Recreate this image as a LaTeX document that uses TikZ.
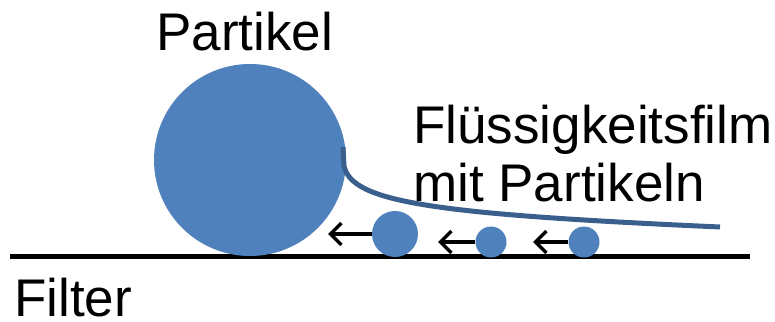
\documentclass[tikz,border=0pt]{standalone}
\usepackage{fontspec}
\setmainfont{Liberation Sans}
\usetikzlibrary{arrows.meta}
\definecolor{partblue}{HTML}{4F81BD}
\definecolor{filmblue}{HTML}{3A5F8C}
\begin{document}
\begin{tikzpicture}[x=1pt,y=-1pt,
  particle/.style={circle,fill=partblue,inner sep=0pt,draw=none},
  lbl/.style={anchor=base west,inner sep=0pt,font=\fontsize{53}{60}\selectfont},
  move/.style={line width=3.5pt,-{Straight Barb[length=11pt,width=22pt,line width=3.5pt]}}]
\useasboundingbox (0,0) rectangle (775,321);
% filter surface
\coordinate (fl) at (10,256);
\coordinate (fr) at (750,256);
\draw[line width=5pt] (fl) -- (fr);
% particles
\node[particle,minimum size=192pt] (big) at (250,160) {};
\node[particle,minimum size=46pt] (p1) at (395,234) {};
\node[particle,minimum size=31pt] (p2) at (491,242) {};
\node[particle,minimum size=31pt] (p3) at (584,242) {};
% liquid film surface
\coordinate (fs) at (343,147);
\coordinate (fe) at (720,227);
\draw[filmblue,line width=5pt] (fs) -- (344,166) .. controls (352,202) and (430,214) .. (fe);
% particle motion
\coordinate (a1) at (328,234);
\coordinate (a2) at (438,242);
\coordinate (a3) at (533,242);
\draw[move] (p1.west) -- (a1);
\draw[move] (p2.west) -- (a2);
\draw[move] (p3.west) -- (a3);
% labels
\node[lbl] (tpart) at (156,50) {Partikel};
\node[lbl] (tfilm1) at (413,143) {Flüssigkeitsfilm};
\node[lbl] (tfilm2) at (413,201) {mit Partikeln};
\node[lbl] (tfilt) at (14,316) {Filter};
\end{tikzpicture}
\end{document}
